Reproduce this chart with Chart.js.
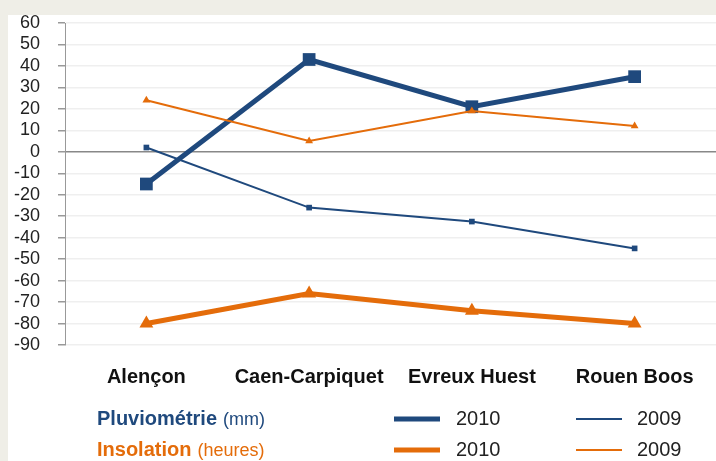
<!DOCTYPE html>
<html>
<head>
<meta charset="utf-8">
<style>
  html, body { margin: 0; padding: 0; background: #efeee7; }
  #wrap { width: 716px; height: 461px; }
</style>
<script src="https://cdn.jsdelivr.net/npm/chart.js@4/dist/chart.umd.min.js"></script>
</head>
<body>
<div id="wrap"><canvas id="chart" width="716" height="461"></canvas></div>
<script>
// data
const stations = ['Alençon', 'Caen-Carpiquet', 'Evreux Huest', 'Rouen Boos'];
const pluvio2010 = [-15, 43, 21, 35];
const pluvio2009 = [2, -26, -32.5, -45];
const insol2010 = [-80, -66, -74, -80];
const insol2009 = [24, 5, 19, 12];

const blue = '#1f497d';
const orange = '#e46c0a';
const font = '"Liberation Sans", Arial, sans-serif';

// beige frame + white panel
const panelBg = {
    id: 'panelBg',
    beforeDraw(chart) {
        const ctx = chart.ctx;
        ctx.save();
        ctx.fillStyle = '#efeee7';
        ctx.fillRect(0, 0, chart.width, chart.height);
        ctx.fillStyle = '#ffffff';
        ctx.fillRect(8, 15, chart.width - 8, chart.height - 15);
        ctx.restore();
    }
};

// legend drawn by hand, like the original layout
const customLegend = {
    id: 'customLegend',
    afterDraw(chart) {
        const ctx = chart.ctx;
        const ds = chart.data.datasets;
        ctx.save();
        ctx.textBaseline = 'middle';

        const rows = [
            {title: 'Pluviométrie', unit: '(mm)', color: blue, y: 419, a: ds[0], b: ds[2]},
            {title: 'Insolation', unit: '(heures)', color: orange, y: 450, a: ds[1], b: ds[3]}
        ];
        rows.forEach(r => {
            ctx.fillStyle = r.color;
            ctx.font = 'bold 20px ' + font;
            ctx.fillText(r.title, 97, r.y);
            const w = ctx.measureText(r.title).width;
            ctx.font = '18px ' + font;
            ctx.fillText(r.unit, 97 + w + 6, r.y + 1);

            [[r.a, 394, 456], [r.b, 576, 637]].forEach(([d, x, tx]) => {
                ctx.strokeStyle = d.borderColor;
                ctx.lineWidth = d.borderWidth;
                ctx.beginPath();
                ctx.moveTo(x, r.y);
                ctx.lineTo(x + 46, r.y);
                ctx.stroke();
                ctx.fillStyle = '#222';
                ctx.font = '20px ' + font;
                ctx.fillText(d.label, tx, r.y);
            });
        });
        ctx.restore();
    }
};

new Chart(document.querySelector('#chart'), {
    type: 'line',
    data: {
        labels: stations,
        datasets: [
            {
                label: '2010',
                data: pluvio2010,
                borderColor: blue,
                backgroundColor: blue,
                borderWidth: 5,
                pointStyle: 'rect',
                pointRadius: 9,
                pointBorderWidth: 0,
                order: 2
            },
            {
                label: '2010',
                data: insol2010,
                borderColor: orange,
                backgroundColor: orange,
                borderWidth: 5,
                pointStyle: 'triangle',
                pointRadius: 8,
                pointBorderWidth: 0,
                order: 3
            },
            {
                label: '2009',
                data: pluvio2009,
                borderColor: blue,
                backgroundColor: blue,
                borderWidth: 2,
                pointStyle: 'rect',
                pointRadius: 4,
                pointBorderWidth: 0,
                order: 4
            },
            {
                label: '2009',
                data: insol2009,
                borderColor: orange,
                backgroundColor: orange,
                borderWidth: 2,
                pointStyle: 'triangle',
                pointRadius: 4.5,
                pointBorderWidth: 0,
                order: 1
            }
        ]
    },
    options: {
        responsive: false,
        animation: false,
        layout: { autoPadding: false, padding: { top: 23, left: 0, right: 0, bottom: 0 } },
        plugins: {
            legend: { display: false },
            tooltip: { enabled: false }
        },
        elements: { line: { tension: 0 } },
        scales: {
            x: {
                offset: true,
                grid: { display: false, drawTicks: false },
                border: { display: false },
                ticks: {
                    color: '#111',
                    padding: 20,
                    font: { family: font, size: 20, weight: 'bold' }
                },
                afterFit(scale) {
                    scale.height = 116;
                    scale.paddingLeft = 0;
                    scale.paddingRight = 0;
                }
            },
            y: {
                min: -90,
                max: 60,
                ticks: {
                    stepSize: 10,
                    autoSkip: false,
                    color: '#222',
                    padding: 18,
                    font: { family: font, size: 18 }
                },
                grid: {
                    color: ctx => ctx.tick && ctx.tick.value === 0 ? '#888' : '#efefef',
                    lineWidth: 1.5,
                    tickColor: '#999',
                    tickLength: 7
                },
                border: { color: '#999', width: 1 },
                afterFit(scale) {
                    scale.width = 65;
                    scale.paddingTop = 11;
                    scale.paddingBottom = 0;
                }
            }
        }
    },
    plugins: [panelBg, customLegend]
});
</script>
</body>
</html>
